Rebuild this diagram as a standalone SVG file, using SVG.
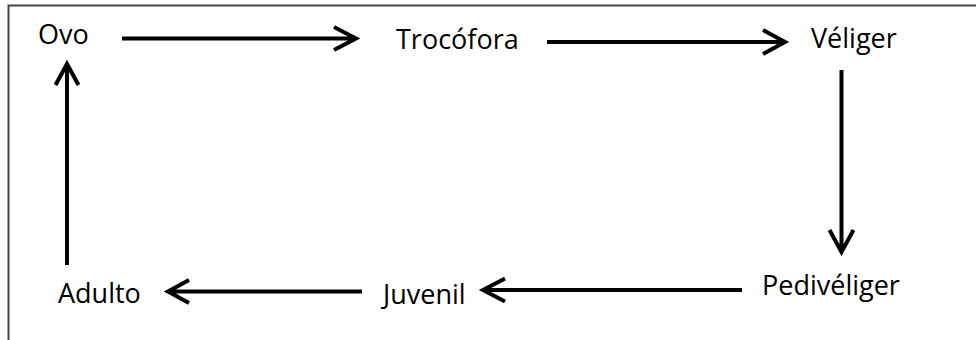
<svg xmlns="http://www.w3.org/2000/svg" width="976" height="340" viewBox="0 0 976 340">
<style>
.frame{fill:none;stroke:#444;stroke-width:2}
.lbl{font-family:"Open Sans","Liberation Sans",sans-serif;font-size:27px;fill:#000}
.arr{fill:none;stroke:#000;stroke-width:4;stroke-linejoin:miter;stroke-linecap:butt}
</style>
<rect width="976" height="340" fill="#fff"/>
<path class="frame" d="M8.5,340 V5.5 H976"/>
<g id="ovo"><text class="lbl" x="38" y="44">Ovo</text></g>
<g id="trocofora"><text class="lbl" x="396" y="49">Trocófora</text></g>
<g id="veliger"><text class="lbl" x="811" y="48">Véliger</text></g>
<g id="pediveliger"><text class="lbl" x="762" y="295">Pedivéliger</text></g>
<g id="juvenil"><text class="lbl" x="383" y="304">Juvenil</text></g>
<g id="adulto"><text class="lbl" x="58" y="303">Adulto</text></g>
<g id="connectors">
<path class="arr" d="M122,38.5 H355 M334,27 L356,38.5 L334,50"/>
<path class="arr" d="M547,42 H784 M763,30 L785,42 L763,54"/>
<path class="arr" d="M841.5,70 V251 M829.5,230 L841.5,252 L853.5,230"/>
<path class="arr" d="M742,290 H484 M505,278.5 L483,290 L505,301.5"/>
<path class="arr" d="M362,291.5 H169 M189,280 L168,291.5 L189,303"/>
<path class="arr" d="M67,265 V65 M55.5,85 L67,64 L78.5,85"/>
</g>
</svg>
